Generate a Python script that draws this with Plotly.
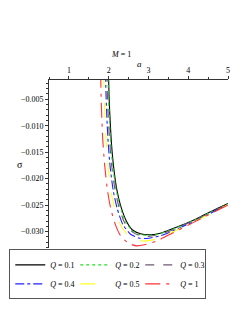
import plotly.graph_objects as go

# Data
labels = ["0.1", "0.2", "0.3", "0.4", "0.5", "1"]

a_q01 = [1.995, 2.01, 2.03, 2.07, 2.12, 2.2, 2.3, 2.45, 2.6, 2.8, 3.0, 3.3, 3.7, 4.2, 4.6, 5.0]
s_q01 = [0.0, -0.0045, -0.0080, -0.0133, -0.0175, -0.0219, -0.0251, -0.0281, -0.0297, -0.0304, -0.0306, -0.0303, -0.0292, -0.0276, -0.0261, -0.0247]

a_q02 = [1.98, 1.995, 2.015, 2.05, 2.1, 2.18, 2.28, 2.43, 2.6, 2.8, 3.0, 3.3, 3.7, 4.2, 4.6, 5.0]
s_q02 = [0.0, -0.0045, -0.0082, -0.0132, -0.0175, -0.0218, -0.0251, -0.0282, -0.0299, -0.0306, -0.0307, -0.0304, -0.0293, -0.0277, -0.0262, -0.0248]

a_q03 = [1.955, 1.97, 1.99, 2.03, 2.08, 2.16, 2.26, 2.4, 2.6, 2.8, 3.0, 3.3, 3.7, 4.2, 4.6, 5.0]
s_q03 = [0.0, -0.0045, -0.0083, -0.0135, -0.0178, -0.0221, -0.0254, -0.0283, -0.0301, -0.0308, -0.0309, -0.0305, -0.0294, -0.0277, -0.0263, -0.0248]

a_q04 = [1.92, 1.935, 1.955, 1.99, 2.04, 2.12, 2.22, 2.36, 2.55, 2.75, 2.95, 3.3, 3.7, 4.2, 4.6, 5.0]
s_q04 = [0.0, -0.0045, -0.0085, -0.0135, -0.0180, -0.0225, -0.0258, -0.0287, -0.0305, -0.0312, -0.0313, -0.0308, -0.0296, -0.0279, -0.0264, -0.0249]

a_q05 = [1.875, 1.89, 1.91, 1.945, 1.99, 2.07, 2.17, 2.3, 2.5, 2.7, 2.9, 3.2, 3.6, 4.1, 4.6, 5.0]
s_q05 = [0.0, -0.0045, -0.0088, -0.0140, -0.0182, -0.0230, -0.0262, -0.0288, -0.0308, -0.0316, -0.0318, -0.0314, -0.0301, -0.0283, -0.0265, -0.0249]

a_q1 = [1.80, 1.81, 1.825, 1.85, 1.90, 1.97, 2.05, 2.16, 2.3, 2.5, 2.7, 2.9, 3.2, 3.6, 4.1, 4.6, 5.0]
s_q1 = [0.0, -0.0045, -0.0080, -0.0125, -0.0175, -0.0222, -0.0256, -0.0285, -0.0308, -0.0322, -0.0327, -0.0325, -0.0318, -0.0303, -0.0284, -0.0265, -0.0250]

x_ticks = [1, 2, 3, 4, 5]
y_ticks = [-0.005, -0.010, -0.015, -0.020, -0.025, -0.030]

series = [
    (a_q01, s_q01, "black", "solid"),
    (a_q02, s_q02, "#22dd22", "dot"),
    (a_q03, s_q03, "#6f5a70", "dash"),
    (a_q04, s_q04, "#2222ff", "dashdot"),
    (a_q05, s_q05, "#ffff22", "longdash"),
    (a_q1, s_q1, "#ff3333", "longdashdot"),
]

fig = go.Figure()
for lab, (xs, ys, col, dash) in zip(labels, series):
    fig.add_trace(go.Scatter(
        x=xs, y=ys, mode="lines",
        name="<i>Q</i> = " + lab,
        line=dict(color=col, dash=dash, width=1.1, shape="spline", smoothing=0.6),
    ))

serif = "Liberation Serif, Times New Roman, serif"
fig.update_layout(
    width=241, height=315,
    margin=dict(l=41, r=21, t=72, b=75, autoexpand=False),
    paper_bgcolor="white", plot_bgcolor="white",
    font=dict(family=serif, size=8, color="black"),
    showlegend=True,
    legend=dict(
        orientation="h", x=-0.222, xanchor="left", y=-0.008, yanchor="top",
        bordercolor="#555555", borderwidth=1, entrywidth=20,
        font=dict(family=serif, size=8), itemwidth=30,
        tracegroupgap=0,
    ),
    xaxis=dict(
        range=[0.5, 5], side="top", showline=True, linecolor="#333333", linewidth=1,
        ticks="outside", ticklen=3, tickcolor="#333333", tickvals=x_ticks,
        showgrid=False, zeroline=False, tickfont=dict(size=8),
        minor=dict(dtick=0.5, ticks="outside", ticklen=2, tickcolor="#333333"),
    ),
    yaxis=dict(
        range=[-0.0331, -0.00137], showline=True, linecolor="#333333", linewidth=1,
        ticks="outside", ticklen=3, tickcolor="#333333", tickvals=y_ticks,
        tickformat=".3f", showgrid=False, zeroline=False, tickfont=dict(size=8),
        minor=dict(dtick=0.001, ticks="outside", ticklen=2, tickcolor="#333333"),
    ),
    annotations=[
        dict(text="<i>M</i> = 1", xref="paper", yref="paper", x=0.402, y=1.149,
             yanchor="middle", showarrow=False, font=dict(size=8)),
        dict(text="<i>a</i>", xref="paper", yref="paper", x=0.503, y=1.095,
             yanchor="middle", showarrow=False, font=dict(size=9)),
        dict(text="σ", xref="paper", yref="paper", x=-0.19, y=0.5,
             showarrow=False, font=dict(size=10)),
    ],
)

fig.write_html("out.html")
